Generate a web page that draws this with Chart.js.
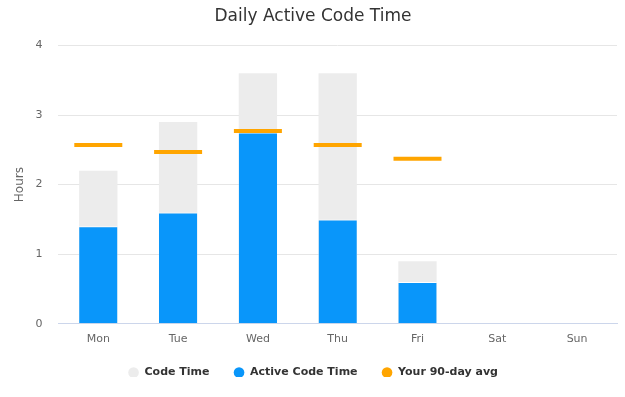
<!DOCTYPE html>
<html>
<head>
<meta charset="utf-8">
<script src="https://cdn.jsdelivr.net/npm/chart.js@4"></script>
<style>
  html, body { margin: 0; padding: 0; background: #fff; }
  #wrap { width: 625px; height: 397px; }
</style>
</head>
<body>
<div id="wrap"><canvas id="myChart"></canvas></div>
<script>
// Datos de la gráfica
var days = ['Mon', 'Tue', 'Wed', 'Thu', 'Fri', 'Sat', 'Sun'];
var codeTime = [2.2, 2.9, 3.6, 3.6, 0.9, 0, 0];
var activeCodeTime = [1.4, 1.6, 2.75, 1.5, 0.6, 0, 0];
var avg90 = [2.57, 2.47, 2.77, 2.57, 2.37, null, null];

var fontFamily = '"DejaVu Sans", "Open Sans", sans-serif';

// La leyenda ocupa menos alto para que el eje x quede más abajo
var legendShift = {
  id: 'legendShift',
  beforeUpdate: function(c) {
    var lg = c.legend;
    if (!lg || lg._patched) return;
    lg._patched = true;
    var fit = lg.fit, draw = lg.draw;
    lg.fit = function() { fit.apply(this, arguments); this.height -= 11; };
    lg.draw = function() {
      this.ctx.save();
      this.ctx.translate(0, -12);
      draw.apply(this, arguments);
      this.ctx.restore();
    };
  }
};

var ctx = document.getElementById('myChart').getContext('2d');

var chart = new Chart(ctx, {
  type: 'bar',
  data: {
    labels: days,
    datasets: [{
      label: 'Code Time',
      data: codeTime,
      backgroundColor: '#ececec',
      borderWidth: 0,
      grouped: false,
      order: 2,
      categoryPercentage: 1,
      barPercentage: 0.48
    }, {
      label: 'Active Code Time',
      data: activeCodeTime,
      backgroundColor: '#0996fa',
      borderColor: '#ffffff',
      borderWidth: { top: 1 },
      grouped: false,
      order: 1,
      categoryPercentage: 1,
      barPercentage: 0.48
    }, {
      type: 'line',
      label: 'Your 90-day avg',
      data: avg90,
      showLine: false,
      pointStyle: 'line',
      pointRadius: 24,
      pointHoverRadius: 24,
      borderWidth: 4,
      borderColor: '#ffa500',
      backgroundColor: '#ffa500',
      order: 0
    }]
  },
  plugins: [legendShift],
  options: {
    responsive: true,
    maintainAspectRatio: false,
    animation: false,
    layout: { autoPadding: false, padding: { left: 9, right: 8, top: 0, bottom: 8 } },
    plugins: {
      title: {
        display: true,
        text: 'Daily Active Code Time',
        color: '#333333',
        font: { family: fontFamily, size: 17, weight: 'normal' },
        padding: { top: 6, bottom: 19 }
      },
      legend: {
        position: 'bottom',
        labels: {
          usePointStyle: true,
          pointStyle: 'circle',
          boxWidth: 11,
          boxHeight: 7.5,
          padding: 24,
          color: '#333333',
          font: { family: fontFamily, size: 11, weight: 'bold' },
          sort: function(a, b) { return a.datasetIndex - b.datasetIndex; },
          generateLabels: function(c) {
            var items = Chart.defaults.plugins.legend.labels.generateLabels(c);
            items.forEach(function(it) {
              it.lineWidth = 0;
              it.strokeStyle = it.fillStyle;
            });
            return items;
          }
        }
      },
      tooltip: { enabled: true }
    },
    scales: {
      x: {
        grid: { display: false, drawTicks: false, tickLength: 0 },
        border: { color: '#ccd6eb', width: 1 },
        ticks: { color: '#666666', font: { family: fontFamily, size: 11 }, padding: 9 }
      },
      y: {
        min: 0,
        max: 4,
        ticks: { stepSize: 1, color: '#666666', font: { family: fontFamily, size: 11 }, padding: 16 },
        grid: { color: '#e6e6e6', drawTicks: false, tickLength: 0 },
        border: { display: false },
        title: {
          display: true,
          text: 'Hours',
          color: '#666666',
          font: { family: fontFamily, size: 12 },
          padding: { top: 4, bottom: -8 }
        }
      }
    }
  }
});
</script>
</body>
</html>
